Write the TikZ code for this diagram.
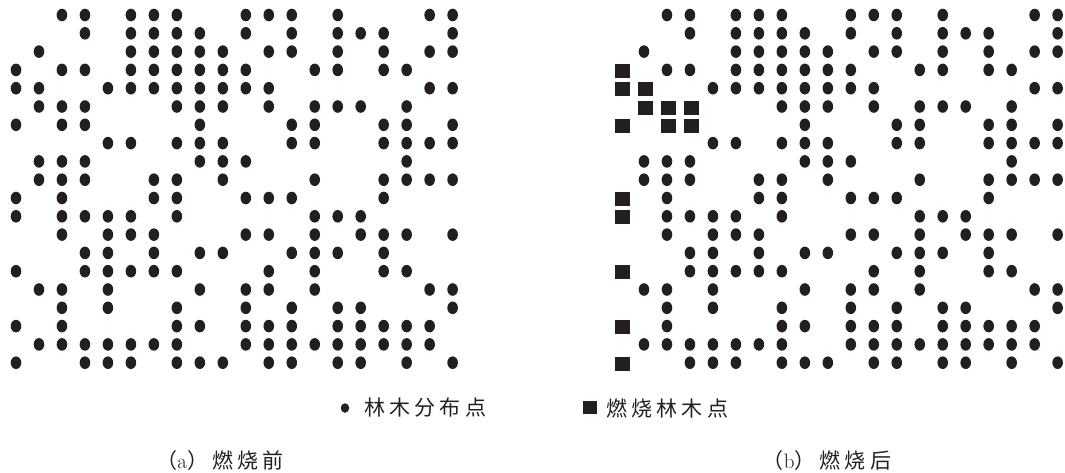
\documentclass[tikz,border=0pt]{standalone}
\usepackage{fontspec}
\newfontfamily\cjk[LetterSpace=20]{Noto Sans CJK SC}
\usetikzlibrary{shapes.geometric}
\definecolor{ink}{HTML}{231F20}
\tikzset{
  treedot/.style={ellipse, fill=ink, inner sep=0pt, minimum width=10.6pt, minimum height=12.6pt},
  burnt/.style={rectangle, fill=ink, inner sep=0pt, minimum width=15.5pt, minimum height=14pt},
  legdot/.style={ellipse, fill=ink, inner sep=0pt, minimum width=8.5pt, minimum height=9.5pt},
  legsq/.style={rectangle, fill=ink, inner sep=0pt, minimum width=14pt, minimum height=13pt},
  captext/.style={font=\fontsize{21}{21}\selectfont\cjk, inner sep=0pt, text=ink},
}
\expandafter\def\csname burnt-3-0\endcsname{}
\expandafter\def\csname burnt-4-0\endcsname{}
\expandafter\def\csname burnt-4-1\endcsname{}
\expandafter\def\csname burnt-5-1\endcsname{}
\expandafter\def\csname burnt-5-2\endcsname{}
\expandafter\def\csname burnt-5-3\endcsname{}
\expandafter\def\csname burnt-6-0\endcsname{}
\expandafter\def\csname burnt-6-2\endcsname{}
\expandafter\def\csname burnt-6-3\endcsname{}
\expandafter\def\csname burnt-10-0\endcsname{}
\expandafter\def\csname burnt-11-0\endcsname{}
\expandafter\def\csname burnt-14-0\endcsname{}
\expandafter\def\csname burnt-17-0\endcsname{}
\expandafter\def\csname burnt-19-0\endcsname{}
\begin{document}
\begin{tikzpicture}[x=1pt,y=-1pt]
\useasboundingbox (0,0) rectangle (1065,472);
\foreach \r/\cl in {
  0/{2,3,5,6,7,10,11,12,14,18,19},
  1/{3,5,6,7,8,10,12,14,15,16,19},
  2/{1,5,6,7,8,9,11,12,14,16,18,19},
  3/{0,2,3,5,6,7,8,9,10,13,14,16,17},
  4/{0,1,4,5,6,7,8,9,10,11,18,19},
  5/{1,2,3,7,8,9,11,13,14,15,17},
  6/{0,2,3,8,12,13,16,17,19},
  7/{4,5,7,8,9,12,13,16,17,18,19},
  8/{1,2,3,8,9,10,17},
  9/{1,2,3,6,7,9,13,16,17,18,19},
  10/{0,2,6,7,10,11,12,16},
  11/{0,2,3,4,5,7,13,14,15},
  12/{2,4,5,6,10,11,13,15,16,17,19},
  13/{3,4,6,8,9,12,13,14,16},
  14/{0,3,4,5,6,7,11,13,16,17},
  15/{1,2,4,8,10,11,13,18,19},
  16/{2,4,7,10,12,14,15,19},
  17/{0,2,7,8,10,11,12,14,15,16,17,18},
  18/{1,2,3,4,5,6,7,10,11,12,13,14,15,16,17,18},
  19/{0,3,4,5,7,8,9,11,12,14,15,17,19}}{
  \foreach \c in \cl {
    \node[treedot] (L-\r-\c) at ({16+22.98*\c},{15+18.3*\r}) {};
    \ifcsname burnt-\r-\c\endcsname
      \node[burnt] (R-\r-\c) at ({622.5+22.98*\c},{16+18.3*\r}) {};
    \else
      \node[treedot] (R-\r-\c) at ({621+22.98*\c},{15+18.3*\r}) {};
    \fi
  }
}
\node[legdot] (ld) at (345,408) {};
\node[captext, anchor=west] (lt) at (364,408) {林木分布点};
\node[legsq] (ls) at (590,407) {};
\node[captext, anchor=west] (bt) at (606,408) {燃烧林木点};
\node[captext] (ca) at (220,461) {（{\rmfamily a}）燃烧前};
\node[captext] (cb) at (827,461) {（{\rmfamily b}）燃烧后};
\end{tikzpicture}
\end{document}
